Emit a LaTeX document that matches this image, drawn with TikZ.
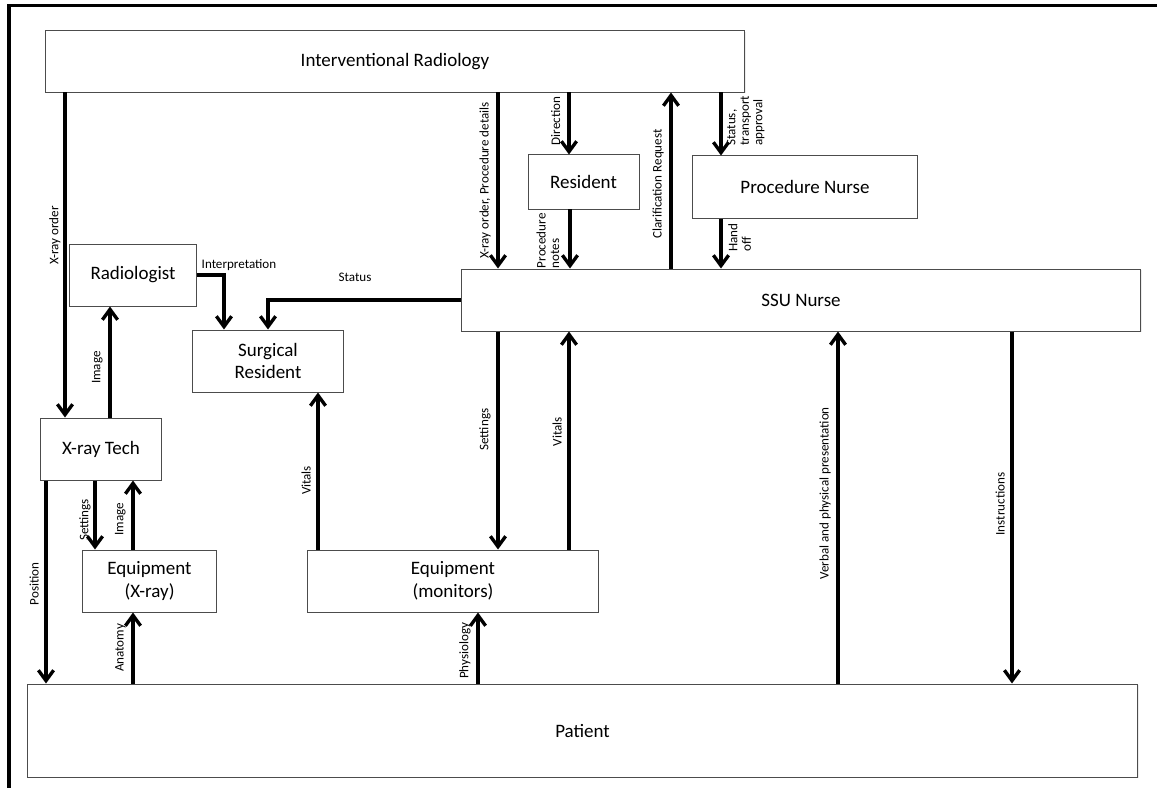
\documentclass[tikz,border=0pt]{standalone}
\usepackage{fontspec}
\setmainfont{Carlito}
\usetikzlibrary{arrows.meta,shadows}

\tikzset{
    kasten/.style={draw=black!70, line width=0.7pt, fill=white, align=center,
        font=\fontsize{13.5}{16}\selectfont, inner sep=0pt,
        drop shadow={opacity=0.15, shadow xshift=1pt, shadow yshift=-1pt}},
    pfeil/.style={line width=2.4pt, -{Straight Barb[length=2.6mm, width=3.8mm]}},
    notiz/.style={font=\fontsize{9.3}{9.6}\selectfont, rotate=90, align=left, inner xsep=1pt, inner ysep=4pt},
    notizflach/.style={font=\fontsize{9.3}{9.6}\selectfont, inner sep=1pt}
}

\begin{document}
\begin{tikzpicture}[x=0.025cm, y=-0.025cm]
    \useasboundingbox (0,0) rectangle (1157,788);
    % frame
    \draw[line width=2.8pt] (9,788) -- (9,5.5) -- (1157,5.5);

    \path node[kasten, minimum width=17.45cm, minimum height=1.525cm] (IR) at (395,61.5) {Interventional Radiology}
        node[kasten, minimum width=2.775cm, minimum height=1.35cm] (Res) at (583.5,182) {Resident}
        node[kasten, minimum width=5.6cm, minimum height=1.55cm] (PN) at (805,187) {Procedure Nurse}
        node[kasten, minimum width=16.95cm, minimum height=1.55cm] (SSU) at (801,300) {SSU Nurse}
        node[kasten, minimum width=3.15cm, minimum height=1.55cm] (Rad) at (133,275) {Radiologist}
        node[kasten, minimum width=3.75cm, minimum height=1.55cm] (SR) at (268,361) {Surgical\\Resident}
        node[kasten, minimum width=3cm, minimum height=1.55cm] (XRT) at (101,449) {X-ray Tech}
        node[kasten, minimum width=3.325cm, minimum height=1.55cm] (EqX) at (149.5,581) {Equipment\\(X-ray)}
        node[kasten, minimum width=7.25cm, minimum height=1.55cm] (EqM) at (453,581) {Equipment\\(monitors)}
        node[kasten, minimum width=27.725cm, minimum height=2.325cm] (Pat) at (582.5,730.5) {Patient};

    % left side
    \draw[pfeil] (65,0 |- IR.south) -- node[notiz, pos=0.44, anchor=south, inner ysep=2pt] {X-ray order} (65,0 |- XRT.north);
    \draw[pfeil] (110,0 |- XRT.north) -- node[notiz, pos=0.45, anchor=south] {Image} (110,0 |- Rad.south);
    \draw[pfeil] (46,0 |- XRT.south) -- node[notiz, pos=0.51, anchor=south] {Position} (46,0 |- Pat.north);
    \draw[pfeil] (95,0 |- XRT.south) -- node[notiz, pos=0.57, anchor=south, inner ysep=2pt] {Settings} (95,0 |- EqX.north);
    \draw[pfeil] (133,0 |- EqX.north) -- node[notiz, pos=0.44, anchor=south] {Image} (133,0 |- XRT.south);
    \draw[pfeil] (133,0 |- Pat.north) -- node[notiz, pos=0.5, anchor=south] {Anatomy} (133,0 |- EqX.south);
    \draw[pfeil] (Rad.east) node[notizflach, anchor=south west, xshift=1.5pt, yshift=1pt] {Interpretation}
        -| ([xshift=-1.1cm]SR.north);
    \draw[pfeil] (SSU.west) -| node[notizflach, pos=0.275, above=0.38cm] {Status} (SR.north);
    \draw[pfeil] (318,0 |- EqM.north) -- node[notiz, pos=0.44, anchor=south] {Vitals} (318,0 |- SR.south);

    % monitors and patient
    \draw[pfeil] (478,0 |- Pat.north) -- node[notiz, pos=0.46, anchor=south] {Physiology} (478,0 |- EqM.south);
    \draw[pfeil] (498,0 |- SSU.south) -- node[notiz, pos=0.45, anchor=south] {Settings} (498,0 |- EqM.north);
    \draw[pfeil] (569,0 |- EqM.north) -- node[notiz, pos=0.54, anchor=south] {Vitals} (569,0 |- SSU.south);
    \draw[pfeil] (838,0 |- Pat.north) -- node[notiz, pos=0.54, anchor=south] {Verbal and physical presentation} (838,0 |- SSU.south);
    \draw[pfeil] (1012,0 |- SSU.south) -- node[notiz, pos=0.49, anchor=south] {Instructions} (1012,0 |- Pat.north);

    % top
    \draw[pfeil] (498,0 |- IR.south) -- node[notiz, pos=0.5, anchor=south] {X-ray order, Procedure details} (498,0 |- SSU.north);
    \draw[pfeil] (569,0 |- IR.south) -- node[notiz, pos=0.46, anchor=south, inner ysep=5pt] {Direction} (569,0 |- Res.north);
    \draw[pfeil] (570,0 |- Res.south) -- node[notiz, pos=0.53, anchor=south, inner ysep=6.5pt] {Procedure\\notes} (570,0 |- SSU.north);
    \draw[pfeil] (671,0 |- SSU.north) -- node[notiz, pos=0.48, anchor=south] {Clarification Request} (671,0 |- IR.south);
    \draw[pfeil] (721,0 |- IR.south) -- node[notiz, pos=0.45, anchor=north, inner ysep=3pt] {Status,\\transport\\approval} (721,0 |- PN.north);
    \draw[pfeil] (721,0 |- PN.south) -- node[notiz, pos=0.38, anchor=north] {Hand\\off} (721,0 |- SSU.north);
\end{tikzpicture}
\end{document}
